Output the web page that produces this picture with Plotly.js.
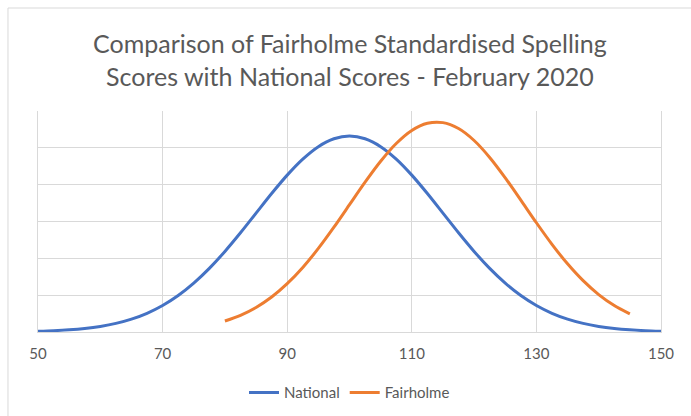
<!DOCTYPE html>
<html>
<head>
<meta charset="utf-8">
<script src="https://cdn.plot.ly/plotly-3.0.1.min.js"></script>
<style>html,body{margin:0;padding:0;background:#fff;}#chart{width:691px;height:416px;}</style>
</head>
<body>
<div id="chart"></div>
<script>
const nationalX = [50,52.5,55,57.5,60,62.5,65,67.5,70,72.5,75,77.5,80,82.5,85,87.5,90,92.5,95,97.5,100,102.5,105,107.5,110,112.5,115,117.5,120,122.5,125,127.5,130,132.5,135,137.5,140,142.5,145,147.5,150];
const nationalY = [0.000103,0.000177,0.000295,0.00048,0.00076,0.001169,0.001748,0.002544,0.0036,0.004954,0.006633,0.008634,0.010934,0.013466,0.01613,0.018795,0.021296,0.023471,0.02516,0.026229,0.026596,0.026229,0.02516,0.023471,0.021296,0.018795,0.01613,0.013466,0.010934,0.008634,0.006633,0.004954,0.0036,0.002544,0.001748,0.001169,0.00076,0.00048,0.000295,0.000177,0.000103];
const fairholmeX = [80,82.5,85,87.5,90,92.5,95,97.5,100,102.5,105,107.5,110,112.5,115,117.5,120,122.5,125,127.5,130,132.5,135,137.5,140,142.5,145];
const fairholmeY = [0.001493,0.002267,0.003334,0.00475,0.006557,0.008763,0.011347,0.014228,0.017283,0.020337,0.023175,0.025584,0.027355,0.028332,0.028422,0.027618,0.025996,0.023699,0.020927,0.017901,0.014829,0.011901,0.009252,0.006966,0.00508,0.003589,0.002456];
const xTicks = [50,70,90,110,130,150];
const titleText = "Comparison of Fairholme Standardised Spelling<br>Scores with National Scores - February 2020";

const font = "Lato, 'Open Sans', sans-serif";
const traces = [
  {x: nationalX, y: nationalY, name: "National", mode: "lines", type: "scatter",
   line: {color: "#4472C4", width: 3, shape: "spline", smoothing: 0.8}},
  {x: fairholmeX, y: fairholmeY, name: "Fairholme", mode: "lines", type: "scatter",
   line: {color: "#ED7D31", width: 3, shape: "spline", smoothing: 0.8}}
];
const layout = {
  width: 691, height: 416,
  margin: {l: 38, r: 30, t: 111, b: 84, autoexpand: false},
  paper_bgcolor: "#fff", plot_bgcolor: "#fff",
  font: {family: font, color: "#595959", size: 15},
  xaxis: {range: [50,150], tickvals: xTicks, ticktext: xTicks.map(String), showgrid: true, gridcolor: "#d9d9d9", gridwidth: 1,
          zeroline: false, showline: true, linecolor: "#d9d9d9", linewidth: 1, ticks: "", ticklabelstandoff: 8,
          tickfont: {family: font, size: 15, color: "#595959"}, automargin: false},
  yaxis: {range: [0,0.03], dtick: 0.005, showticklabels: false, showgrid: true, gridcolor: "#d9d9d9", gridwidth: 1,
          zeroline: false, showline: true, linecolor: "#d9d9d9", linewidth: 1, mirror: true, ticks: "", automargin: false},
  showlegend: true,
  legend: {orientation: "h", x: 0.5, xanchor: "center", y: -0.2, yanchor: "top", font: {family: font, size: 15, color: "#595959"}},
  annotations: [
    {text: titleText, xref: "paper", yref: "paper", x: 0.5, y: 1.231, xanchor: "center", yanchor: "middle",
     showarrow: false, align: "center", font: {family: font, size: 25, color: "#595959"}}
  ],
  shapes: [
    {type: "line", xref: "paper", yref: "paper", x0: -0.0482, x1: -0.0482, y0: 1.466, y1: -0.5, line: {color: "#d9d9d9", width: 1}},
    {type: "line", xref: "paper", yref: "paper", x0: -0.0482, x1: 1.1, y0: 1.466, y1: 1.466, line: {color: "#d9d9d9", width: 1}}
  ]
};
Plotly.newPlot("chart", traces, layout, {displayModeBar: false, staticPlot: true});
</script>
</body>
</html>
